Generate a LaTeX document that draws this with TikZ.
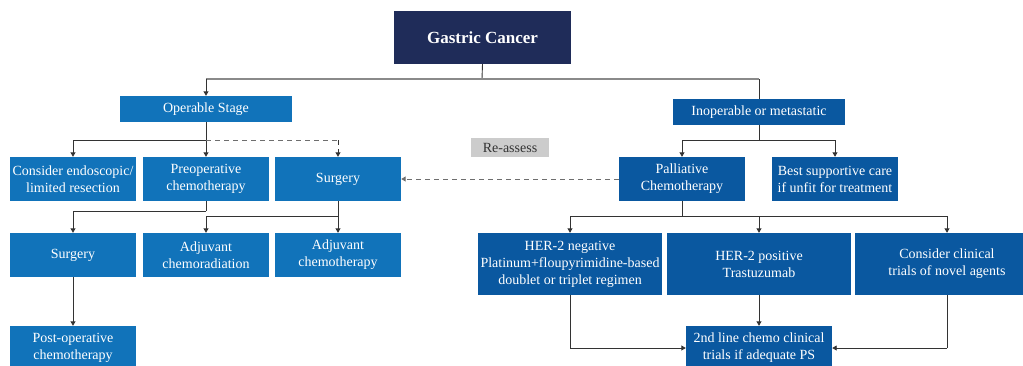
\documentclass[tikz,border=0pt]{standalone}
\usepackage{fontspec}
\setmainfont{Liberation Serif}
\usetikzlibrary{arrows.meta}
\definecolor{navy}{HTML}{1F2C59}
\definecolor{lblue}{HTML}{1173BA}
\definecolor{rblue}{HTML}{0A58A0}
\definecolor{rgray}{HTML}{CCCCCC}
\definecolor{lnc}{HTML}{333333}
\definecolor{lng}{HTML}{8A8A8A}
\tikzset{
  bx/.style={inner sep=0pt, align=center, text=white, font=\fontsize{14}{17}\selectfont},
  lb/.style={bx, fill=lblue},
  rb/.style={bx, fill=rblue},
  arr/.style={draw=lnc, line width=0.9pt, -{Triangle[width=5pt,length=4.5pt]}},
  ln/.style={draw=lnc, line width=0.9pt},
  gln/.style={draw=lng, line width=1.3pt},
  dsh/.style={draw=lng!80!black, line width=1pt, dash pattern=on 5pt off 4pt},
}
\begin{document}
\begin{tikzpicture}[x=1pt,y=-1pt]
\clip (0,0) rectangle (1023,365);
\fill[white] (0,0) rectangle (1023,365);
% nodes
\node[bx, fill=navy, minimum width=177pt, minimum height=53pt, font=\fontsize{17}{20}\selectfont\bfseries] (gc) at (482.5,37.3) {Gastric Cancer};
\node[lb, minimum width=172pt, minimum height=26pt] (op) at (206,109) {Operable Stage};
\node[rb, minimum width=172pt, minimum height=26pt] (inop) at (759,112) {Inoperable or metastatic};
\node[lb, minimum width=126pt, minimum height=44pt] (endo) at (73,179) {Consider endoscopic/\\limited resection};
\node[lb, minimum width=126pt, minimum height=44pt] (preop) at (206,179) {Preoperative\\chemotherapy};
\node[lb, minimum width=126pt, minimum height=44pt] (surg) at (338,179) {Surgery};
\node[rb, minimum width=126pt, minimum height=44pt] (pall) at (682,179) {Palliative\\Chemotherapy};
\node[rb, minimum width=126pt, minimum height=44pt] (bsc) at (835,179) {Best supportive care\\if unfit for treatment};
\node[bx, fill=rgray, text=lnc, minimum width=78pt, minimum height=19pt] (re) at (510,147.5) {Re-assess};
\node[lb, minimum width=126pt, minimum height=44pt] (surg2) at (73,255) {Surgery};
\node[lb, minimum width=126pt, minimum height=44pt] (adjcr) at (206,255) {Adjuvant\\chemoradiation};
\node[lb, minimum width=126pt, minimum height=44pt] (adjc) at (338,255) {Adjuvant\\chemotherapy};
\node[rb, minimum width=184pt, minimum height=62pt] (her2n) at (570,264) {HER-2 negative\\Platinum+floupyrimidine-based\\doublet or triplet regimen};
\node[rb, minimum width=184pt, minimum height=62pt] (her2p) at (759,264) {HER-2 positive\\Trastuzumab};
\node[rb, minimum width=184pt, minimum height=62pt] (cons) at (947,264) {Consider clinical\\trials of novel agents};
\node[lb, minimum width=126pt, minimum height=44pt] (postop) at (73,348) {Post-operative\\chemotherapy};
\node[rb, minimum width=146pt, minimum height=44pt] (second) at (759,348) {2nd line chemo clinical\\trials if adequate PS};
% junctions
\coordinate (j0) at (482,79);
\coordinate (jop) at (206,140);
\coordinate (jin) at (759,140);
\coordinate (jpre) at (206,211);
\coordinate (jsu) at (338,216);
\coordinate (jpa) at (682,216);
\coordinate (jn) at (570,348);
\coordinate (jc) at (947,348);
% connectors from Gastric Cancer
\draw[ln] (gc.south) -- (j0);
\draw[gln] (op.north |- j0) -- (inop.north |- j0);
\draw[arr] (op.north |- j0) -- (op.north);
\draw[ln] (inop.north |- j0) -- (inop.north);
% operable branch
\draw[ln] (op.south) -- (jop);
\draw[arr] (jop) -| (endo.north);
\draw[arr] (jop) -- (preop.north);
\draw[dsh] (jop) -- (surg.north |- jop);
\draw[arr, dash pattern=on 5pt off 4pt] (surg.north |- jop) -- (surg.north);
% inoperable branch
\draw[ln] (inop.south) -- (jin);
\draw[arr] (jin) -| (pall.north);
\draw[arr] (jin) -| (bsc.north);
% re-assess dashed
\draw[dsh, -{Triangle[width=5pt,length=4.5pt]}] (pall.west) -- (surg.east);
% left lower
\draw[ln] (preop.south) -- (jpre);
\draw[arr] (jpre) -| (surg2.north);
\draw[arr] (surg.south) -- (adjc.north);
\draw[arr] (jsu) -| (adjcr.north);
\draw[arr] (surg2.south) -- (postop.north);
% right lower
\draw[ln] (pall.south) -- (jpa);
\draw[arr] (jpa) -| (her2n.north);
\draw[arr] (jpa) -| (her2p.north);
\draw[arr] (jpa) -| (cons.north);
\draw[ln] (her2n.south) -- (jn);
\draw[arr] (jn) -- (second.west);
\draw[arr] (her2p.south) -- (second.north);
\draw[ln] (cons.south) -- (jc);
\draw[arr] (jc) -- (second.east);
\end{tikzpicture}
\end{document}
